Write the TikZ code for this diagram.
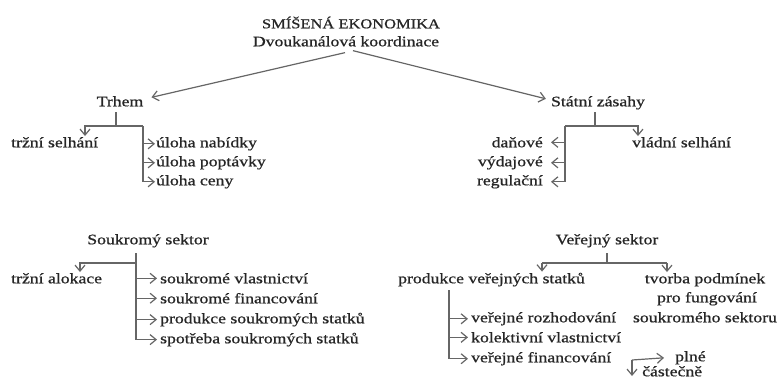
\documentclass[tikz,border=0pt]{standalone}
\usepackage{fontspec}
\setmainfont[FakeStretch=1.22,FakeBold=0.8]{Liberation Serif}
\usetikzlibrary{arrows.meta}
\begin{document}
\begin{tikzpicture}[x=1pt,y=-1pt,
  txt/.style={inner sep=0pt, font=\fontsize{14.5}{17}\selectfont, text=black!85},
  ttl/.style={inner sep=0pt, font=\fontsize{13.5}{16}\selectfont, text=black!85},
  ln/.style={draw=black!60, line width=1.2pt},
  arr/.style={ln, -{Straight Barb[length=6pt,width=10pt]}}]
\fill[white] (0,0) rectangle (781,381);
\useasboundingbox (0,0) rectangle (781,381);

% top
\node[ttl, anchor=mid] (title) at (351,26) {SMÍŠENÁ EKONOMIKA};
\node[txt, anchor=mid] (sub) at (346,44) {Dvoukanálová koordinace};
\node[txt, anchor=mid] (trhem) at (120,104) {Trhem};
\node[txt, anchor=mid] (statni) at (598,104) {Státní zásahy};
\draw[arr] ([xshift=-1pt,yshift=-6pt]sub.south) -- ([xshift=8pt,yshift=4pt]trhem.east);
\draw[arr] ([xshift=7pt,yshift=-4pt]sub.south) -- ([xshift=-5pt,yshift=4pt]statni.west);

% Trhem branch
\node[txt, anchor=mid west] (trzsel) at (11,145) {tržní selhání};
\node[txt, anchor=mid west] (un) at (156,145) {úloha nabídky};
\node[txt, anchor=mid west] (up) at (156,164) {úloha poptávky};
\node[txt, anchor=mid west] (uc) at (156,183) {úloha ceny};
\coordinate (ts) at (116,112);
\coordinate (tj) at (116,126);
\coordinate (tl) at (85,126);
\coordinate (tr) at (143,126);
\draw[ln] (ts) -- (tj);
\draw[arr] (tr) -- (tl) -- ([yshift=1pt]trzsel.north -| tl);
\draw[arr] (tr) -- (tr |- uc) -- ([xshift=-1pt]uc.west);
\draw[arr] (tr |- un) -- ([xshift=-1pt]un.west);
\draw[arr] (tr |- up) -- ([xshift=-1pt]up.west);

% Statni branch
\node[txt, anchor=mid east] (dan) at (543,145) {daňové};
\node[txt, anchor=mid east] (vyd) at (543,164) {výdajové};
\node[txt, anchor=mid east] (reg) at (543,183) {regulační};
\node[txt, anchor=mid west] (vlad) at (632,145) {vládní selhání};
\coordinate (ss) at (595,112);
\coordinate (sj) at (595,126);
\coordinate (sl) at (565,126);
\coordinate (sr) at (638,126);
\draw[ln] (ss) -- (sj);
\draw[arr] (sl) -- (sr) -- ([yshift=1pt]vlad.north -| sr);
\draw[arr] (sl) -- (sl |- reg) -- ([xshift=8pt]reg.east);
\draw[arr] (sl |- dan) -- ([xshift=8pt]dan.east);
\draw[arr] (sl |- vyd) -- ([xshift=8pt]vyd.east);

% Soukromy sektor
\node[txt, anchor=mid] (sous) at (148,242) {Soukromý sektor};
\node[txt, anchor=mid west] (tra) at (11,281) {tržní alokace};
\node[txt, anchor=mid west] (sv) at (160,281) {soukromé vlastnictví};
\node[txt, anchor=mid west] (sf) at (160,301) {soukromé financování};
\node[txt, anchor=mid west] (sps) at (160,321) {produkce soukromých statků};
\node[txt, anchor=mid west] (sss) at (160,341) {spotřeba soukromých statků};
\coordinate (ks) at (136,253);
\coordinate (kj) at (136,263);
\coordinate (kl) at (80,263);
\draw[ln] (ks) -- (kj);
\draw[arr] (kj) -- (kl) -- ([yshift=1pt]tra.north -| kl);
\draw[arr] (kj) -- (kj |- sss) -- ([xshift=-3pt]sss.west);
\draw[arr] (kj |- sv) -- ([xshift=-3pt]sv.west);
\draw[arr] (kj |- sf) -- ([xshift=-3pt]sf.west);
\draw[arr] (kj |- sps) -- ([xshift=-3pt]sps.west);

% Verejny sektor
\node[txt, anchor=mid] (ver) at (607,242) {Veřejný sektor};
\node[txt, anchor=mid west] (pvs) at (398,281) {produkce veřejných statků};
\node[txt, anchor=mid] (tv1) at (705,281) {tvorba podmínek};
\node[txt, anchor=mid] (tv2) at (707,300) {pro fungování};
\node[txt, anchor=mid] (tv3) at (705,320) {soukromého sektoru};
\coordinate (vs) at (607,253);
\coordinate (vj) at (607,263);
\coordinate (vl) at (542,263);
\coordinate (vr) at (667,263);
\draw[ln] (vs) -- (vj);
\draw[ln] (vl) -- (vr);
\draw[arr] (vl) -- ([yshift=1pt]pvs.north -| vl);
\draw[arr] (vr) -- ([yshift=1pt]tv1.north -| vr);

\node[txt, anchor=mid west] (vrz) at (471,320) {veřejné rozhodování};
\node[txt, anchor=mid west] (kv) at (471,340) {kolektivní vlastnictví};
\node[txt, anchor=mid west] (vf) at (471,360) {veřejné financování};
\coordinate (ps) at (449,290);
\draw[arr] (ps) -- (ps |- vf) -- ([xshift=-3pt]vf.west);
\draw[arr] (ps |- vrz) -- ([xshift=-3pt]vrz.west);
\draw[arr] (ps |- kv) -- ([xshift=-3pt]kv.west);

\node[txt, anchor=mid west] (plne) at (675,359) {plné};
\node[txt, anchor=mid west] (cast) at (642,374) {částečně};
\coordinate (pc) at (632,360);
\coordinate (pd) at (632,376);
\draw[arr] (pc) -- ([xshift=-11pt]plne.west);
\draw[arr] (pc) -- (pd);
\end{tikzpicture}
\end{document}
